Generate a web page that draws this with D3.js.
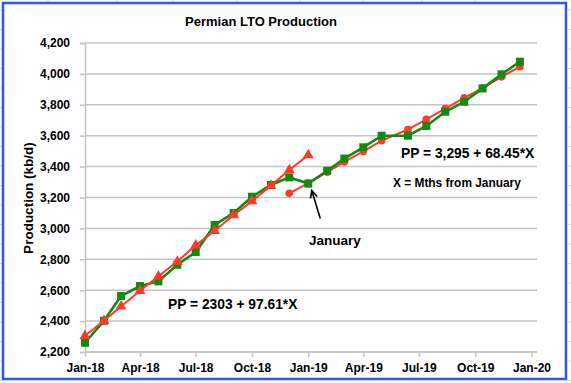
<!DOCTYPE html>
<html>
<head>
<meta charset="utf-8">
<script src="https://cdn.jsdelivr.net/npm/d3@7"></script>
<style>
  html, body { margin: 0; padding: 0; background: #fff; }
  svg { display: block; }
  text { font-family: "Liberation Sans", Arial, sans-serif; font-weight: bold; fill: #000; }
</style>
</head>
<body>
<svg id="chart" width="571" height="383"></svg>
<script>
// ---- data ----
const greenDates = ["2018-01-01","2018-02-01","2018-03-01","2018-04-01","2018-05-01","2018-06-01",
  "2018-07-01","2018-08-01","2018-09-01","2018-10-01","2018-11-01","2018-12-01",
  "2019-01-01","2019-02-01","2019-03-01","2019-04-01","2019-05-01","2019-06-13",
  "2019-07-13","2019-08-13","2019-09-13","2019-10-13","2019-11-13","2019-12-13"];
const greenValues = [2260, 2402, 2562, 2627, 2657, 2765, 2847, 3022, 3100, 3205, 3281, 3330,
  3290, 3373, 3452, 3525, 3600, 3600, 3663, 3755, 3820, 3906, 3997, 4079];

const triDates = ["2018-01-01","2018-02-01","2018-03-01","2018-04-01","2018-05-01","2018-06-01",
  "2018-07-01","2018-08-01","2018-09-01","2018-10-01","2018-11-01","2018-12-01","2019-01-01"];
const triValues = [2305, 2402, 2495, 2596, 2690, 2786, 2890, 2985, 3086, 3176, 3277, 3378, 3474];

const circDates = ["2018-12-01","2019-01-01","2019-02-01","2019-03-01","2019-04-01","2019-05-01",
  "2019-06-13","2019-07-13","2019-08-13","2019-09-13","2019-10-13","2019-11-13","2019-12-13"];
const circValues = [3227, 3293, 3364, 3430, 3498, 3568, 3640, 3706, 3776, 3845, 3908, 3981, 4047];

const yTicks = [2200, 2400, 2600, 2800, 3000, 3200, 3400, 3600, 3800, 4000, 4200];
const xTickDates = ["2018-01-01","2018-04-01","2018-07-01","2018-10-01","2019-01-01",
  "2019-04-01","2019-07-01","2019-10-01","2020-01-01"];

const title = "Permian LTO Production";
const yTitle = "Production (kb/d)";

// ---- setup ----
const parse = d3.utcParse("%Y-%m-%d");
const svg = d3.select("#chart");
const W = 571, H = 383;

const x = d3.scaleUtc().domain([parse("2018-01-01"), parse("2020-01-10")]).range([85, 537]);
const y = d3.scaleLinear().domain([2200, 4200]).range([352, 43]);

// spreadsheet background lines outside chart border
const bg = svg.append("g").attr("stroke", "#dcdcdc").attr("stroke-width", 1);
d3.range(10, H, 19.5).forEach(v => {
  bg.append("line").attr("x1", 0).attr("x2", 2).attr("y1", v).attr("y2", v);
  bg.append("line").attr("x1", 568).attr("x2", W).attr("y1", v).attr("y2", v);
});
[48, 117, 173, 237, 300, 363, 422, 475].forEach(v => {
  bg.append("line").attr("x1", v).attr("x2", v).attr("y1", 0).attr("y2", 2);
});

// chart border
svg.append("rect").attr("x", 3).attr("y", 3).attr("width", 563).attr("height", 376)
  .attr("fill", "#fff").attr("stroke", "#2f55f5").attr("stroke-width", 2.5);

// gridlines
const grid = svg.append("g");
grid.selectAll("line").data(yTicks).join("line")
  .attr("x1", x.range()[0]).attr("x2", x.range()[1])
  .attr("y1", d => y(d)).attr("y2", d => y(d))
  .attr("stroke", "#c4c4c4").attr("stroke-width", 1.5);

// y axis
const yAxis = d3.axisLeft(y).tickValues(yTicks).tickSize(5).tickPadding(10).tickFormat(d3.format(","));
const gy = svg.append("g").attr("transform", `translate(${x.range()[0]},0)`).call(yAxis);
gy.select(".domain").attr("stroke", "#c4c4c4").attr("stroke-width", 1.5);
gy.selectAll(".tick line").attr("stroke", "#c4c4c4").attr("stroke-width", 1.5);
gy.selectAll(".tick text").style("font-size", "12px").style("font-family", "Liberation Sans, Arial, sans-serif").style("font-weight", "bold").attr("fill", "#000");

// x axis
const xAxis = d3.axisBottom(x).tickValues(xTickDates.map(parse)).tickSize(5).tickPadding(6)
  .tickFormat(d3.utcFormat("%b-%y"));
const gx = svg.append("g").attr("transform", `translate(0,${y.range()[0]})`).call(xAxis);
gx.select(".domain").attr("stroke", "#c4c4c4").attr("stroke-width", 1.5).attr("d", `M${x.range()[0]},0H${x.range()[1]}`);
gx.selectAll(".tick line").attr("stroke", "#c4c4c4").attr("stroke-width", 1.5);
gx.selectAll(".tick text").style("font-size", "12px").style("font-family", "Liberation Sans, Arial, sans-serif").style("font-weight", "bold").attr("fill", "#000");

// series
const green = "#118a11", red = "#ff3a2a";
const line = d3.line().x(d => x(d[0])).y(d => y(d[1]));
const gData = greenDates.map((d, i) => [parse(d), greenValues[i]]);
const tData = triDates.map((d, i) => [parse(d), triValues[i]]);
const cData = circDates.map((d, i) => [parse(d), circValues[i]]);

// red circles (fit 2019)
svg.append("path").datum(cData).attr("d", line).attr("fill", "none").attr("stroke", red).attr("stroke-width", 2);
svg.append("g").selectAll("circle").data(cData).join("circle")
  .attr("cx", d => x(d[0])).attr("cy", d => y(d[1])).attr("r", 3.8).attr("fill", red);

// green actual
svg.append("path").datum(gData).attr("d", line).attr("fill", "none").attr("stroke", green).attr("stroke-width", 2.6);
svg.append("g").selectAll("rect").data(gData).join("rect")
  .attr("x", d => x(d[0]) - 4).attr("y", d => y(d[1]) - 4).attr("width", 8).attr("height", 8).attr("fill", green);

// red triangles (fit 2018)
svg.append("path").datum(tData).attr("d", line).attr("fill", "none").attr("stroke", red).attr("stroke-width", 2);
const tri = d3.symbol().type(d3.symbolTriangle).size(52);
svg.append("g").selectAll("path").data(tData).join("path")
  .attr("transform", d => `translate(${x(d[0])},${y(d[1])})`).attr("d", tri).attr("fill", red);

// title
svg.append("text").attr("x", 261).attr("y", 26).attr("text-anchor", "middle").style("font-size", "13px").text(title);

// y title
svg.append("text").attr("transform", "translate(33,198) rotate(-90)").attr("text-anchor", "middle")
  .style("font-size", "13.5px").text(yTitle);

// annotations
svg.append("text").attr("x", 168).attr("y", 309).style("font-size", "13.8px").text("PP = 2303 + 97.61*X");
svg.append("text").attr("x", 401).attr("y", 158).style("font-size", "13.8px").text("PP = 3,295 + 68.45*X");
svg.append("text").attr("x", 393).attr("y", 187).style("font-size", "11.9px").text("X = Mths from January");
svg.append("text").attr("x", 309).attr("y", 245).style("font-size", "13.5px").text("January");

// arrow pointing to January point
const jan = parse("2019-01-01");
const tipX = x(jan) + 3.5, tipY = y(3290) + 7;
const tailX = x(jan) + 12, tailY = y(3290) + 35;
const ang = Math.atan2(tipY - tailY, tipX - tailX);
const ah = 8, aw = 0.45;
svg.append("line").attr("x1", tailX).attr("y1", tailY).attr("x2", tipX).attr("y2", tipY)
  .attr("stroke", "#000").attr("stroke-width", 1.6);
svg.append("path")
  .attr("d", `M${tipX - ah * Math.cos(ang - aw)},${tipY - ah * Math.sin(ang - aw)}L${tipX},${tipY}L${tipX - ah * Math.cos(ang + aw)},${tipY - ah * Math.sin(ang + aw)}`)
  .attr("fill", "none").attr("stroke", "#000").attr("stroke-width", 1.6);
</script>
</body>
</html>
